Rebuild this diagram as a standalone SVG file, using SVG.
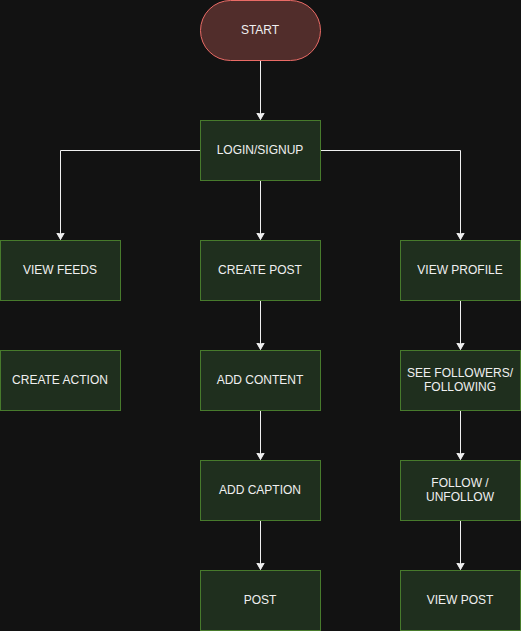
<svg xmlns="http://www.w3.org/2000/svg" width="521" height="631" viewBox="0 0 521 631">
<style>
.n rect{fill:#1f2f1e;stroke:#477a2c;stroke-width:1}
.s rect{fill:#512d2b;stroke:#ea6b66;stroke-width:1}
text{font-family:"Liberation Sans",Arial,Helvetica,sans-serif;font-size:12px;fill:#f0f0f0;text-anchor:middle;dominant-baseline:central}
.c path{fill:none;stroke:#f0f0f0;stroke-width:1}
</style>
<defs>
<marker id="a" markerWidth="10" markerHeight="10" refX="7" refY="4" orient="auto" markerUnits="userSpaceOnUse" viewBox="0 0 10 8">
<path d="M0,0 L7,4 L0,8 L1.75,4 Z" fill="#f0f0f0" stroke="#f0f0f0" stroke-width="1"/>
</marker>
</defs>
<rect width="521" height="631" fill="#121212"/>
<g class="c">
<path d="M260.5,60.5 V119.5" marker-end="url(#a)"/>
<path d="M200.5,150.5 H60.5 V239.5" marker-end="url(#a)"/>
<path d="M320.5,150.5 H460.5 V239.5" marker-end="url(#a)"/>
<path d="M260.5,180.5 V239.5" marker-end="url(#a)"/>
<path d="M260.5,300.5 V349.5" marker-end="url(#a)"/>
<path d="M260.5,410.5 V459.5" marker-end="url(#a)"/>
<path d="M260.5,520.5 V569.5" marker-end="url(#a)"/>
<path d="M460.5,300.5 V349.5" marker-end="url(#a)"/>
<path d="M460.5,410.5 V459.5" marker-end="url(#a)"/>
<path d="M460.5,520.5 V569.5" marker-end="url(#a)"/>
</g>
<g id="start" class="s"><rect x="200.5" y="0.5" width="120" height="60" rx="30" ry="30"/><text x="260" y="29.5">START</text></g>
<g id="login" class="n"><rect x="200.5" y="120.5" width="120" height="60"/><text x="260" y="149.5">LOGIN/SIGNUP</text></g>
<g id="viewfeeds" class="n"><rect x="0.5" y="240.5" width="120" height="60"/><text x="60" y="269.5">VIEW FEEDS</text></g>
<g id="createpost" class="n"><rect x="200.5" y="240.5" width="120" height="60"/><text x="260" y="269.5">CREATE POST</text></g>
<g id="viewprofile" class="n"><rect x="400.5" y="240.5" width="120" height="60"/><text x="460" y="269.5">VIEW PROFILE</text></g>
<g id="createaction" class="n"><rect x="0.5" y="350.5" width="120" height="60"/><text x="60" y="379.5">CREATE ACTION</text></g>
<g id="addcontent" class="n"><rect x="200.5" y="350.5" width="120" height="60"/><text x="260" y="379.5">ADD CONTENT</text></g>
<g id="seefollowers" class="n"><rect x="400.5" y="350.5" width="120" height="60"/><text x="460" y="372.5">SEE FOLLOWERS/</text><text x="460" y="386.5">FOLLOWING</text></g>
<g id="addcaption" class="n"><rect x="200.5" y="460.5" width="120" height="60"/><text x="260" y="489.5">ADD CAPTION</text></g>
<g id="follow" class="n"><rect x="400.5" y="460.5" width="120" height="60"/><text x="460" y="482.5">FOLLOW /</text><text x="460" y="496.5">UNFOLLOW</text></g>
<g id="post" class="n"><rect x="200.5" y="570.5" width="120" height="60"/><text x="260" y="599.5">POST</text></g>
<g id="viewpost" class="n"><rect x="400.5" y="570.5" width="120" height="60"/><text x="460" y="599.5">VIEW POST</text></g>
</svg>
